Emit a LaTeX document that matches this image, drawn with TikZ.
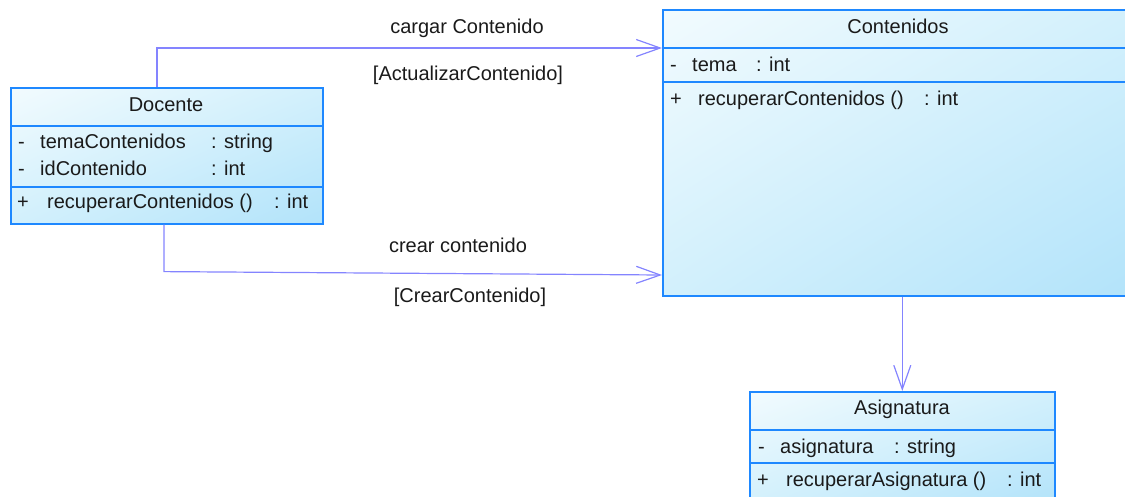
\documentclass[tikz,border=0pt]{standalone}
\usepackage{fontspec}
\setmainfont{Liberation Sans}
\usetikzlibrary{arrows.meta,calc,shadings}
\definecolor{boxline}{HTML}{1E88FF}
\definecolor{connc}{HTML}{8484FF}
\definecolor{fillA}{HTML}{F2FBFE}
\definecolor{fillM}{HTML}{D2F0FC}
\definecolor{fillB}{HTML}{B2E3FA}
\definecolor{ink}{HTML}{1A1A1A}
\begin{document}
\begin{tikzpicture}[x=1pt,y=-1pt,
  classbox/.style={draw=boxline, line width=1.6pt, shade, upper left=fillA, upper right=fillM,
    lower left=fillM, lower right=fillB, inner sep=0pt, anchor=north west},
  compline/.style={draw=boxline, line width=1.6pt},
  txt/.style={inner sep=0pt, anchor=base west, font=\fontsize{20}{24}\selectfont, text=ink},
  ctxt/.style={inner sep=0pt, anchor=base, font=\fontsize{20}{24}\selectfont, text=ink},
  assoc/.style={draw=connc, line width=1.2pt, -{Straight Barb[length=24pt,width=17pt,line width=1.2pt]}}]
\useasboundingbox (0,0) rectangle (1125,496);
\clip (0,0) rectangle (1125,496);

% Docente
\node[classbox, minimum width=312pt, minimum height=136pt] (docente) at (10,87) {};
\draw[compline] (docente.north west |- 0,126) -- (docente.north east |- 0,126);
\draw[compline] (docente.north west |- 0,187) -- (docente.north east |- 0,187);
\node[ctxt] (docT) at (166,111) {Docente};
\node[txt] (docA1m) at (18,148.5) {-};
\node[txt] (docA1) at (40,148.5) {temaContenidos};
\node[txt] (docA1t) at (211,148.5) {: string};
\node[txt] (docA2m) at (18,175) {-};
\node[txt] (docA2) at (40,175) {idContenido};
\node[txt] (docA2t) at (211,175) {: int};
\node[txt] (docO1m) at (17,208.5) {+};
\node[txt] (docO1) at (47,208.5) {recuperarContenidos ()};
\node[txt] (docO1t) at (274,208.5) {: int};

% Contenidos
\node[classbox, minimum width=480pt, minimum height=286pt] (contenidos) at (662,9) {};
\draw[compline] (contenidos.north west |- 0,48) -- (contenidos.north east |- 0,48);
\draw[compline] (contenidos.north west |- 0,82) -- (contenidos.north east |- 0,82);
\node[ctxt] (conT) at (898,33) {Contenidos};
\node[txt] (conA1m) at (670,71) {-};
\node[txt] (conA1) at (692,71) {tema};
\node[txt] (conA1t) at (756,71) {: int};
\node[txt] (conO1m) at (670,105) {+};
\node[txt] (conO1) at (698,105) {recuperarContenidos ()};
\node[txt] (conO1t) at (924,105) {: int};

% Asignatura
\node[classbox, minimum width=305pt, minimum height=115pt] (asignatura) at (749,391) {};
\draw[compline] (asignatura.north west |- 0,430) -- (asignatura.north east |- 0,430);
\draw[compline] (asignatura.north west |- 0,463) -- (asignatura.north east |- 0,463);
\node[ctxt] (asiT) at (902,414) {Asignatura};
\node[txt] (asiA1m) at (758,453) {-};
\node[txt] (asiA1) at (780,453) {asignatura};
\node[txt] (asiA1t) at (894,453) {: string};
\node[txt] (asiO1m) at (757,486) {+};
\node[txt] (asiO1) at (786,486) {recuperarAsignatura ()};
\node[txt] (asiO1t) at (1007,486) {: int};

% connectors
\draw[assoc] ([xshift=147pt]docente.north west) |- (contenidos.west |- 0,48);
\draw[assoc] ([xshift=154pt]docente.south west) -- ++(0,47) -- (contenidos.west |- 0,275);
\draw[assoc] (asignatura.north |- contenidos.south) -- (asignatura.north);

% labels
\node[ctxt] (l1) at (467,33) {cargar Contenido};
\node[ctxt] (l2) at (468,80) {[ActualizarContenido]};
\node[ctxt] (l3) at (458,252) {crear contenido};
\node[ctxt] (l4) at (470,302) {[CrearContenido]};
\end{tikzpicture}
\end{document}
